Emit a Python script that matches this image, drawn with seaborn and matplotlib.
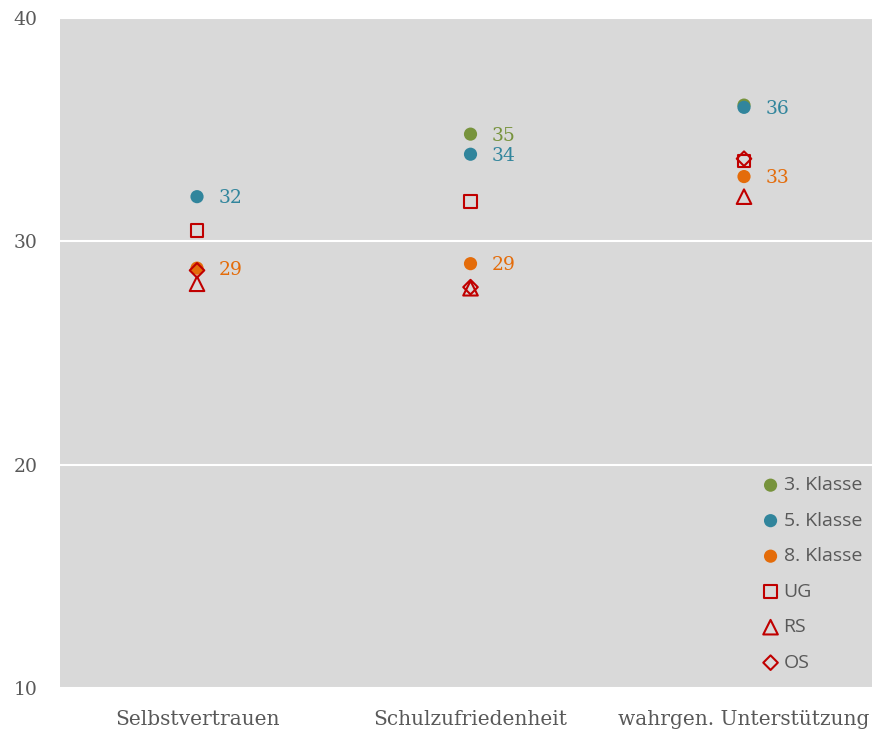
import numpy as np
import pandas as pd
import matplotlib
matplotlib.use("Agg")
import matplotlib.pyplot as plt
import seaborn as sns

categories = ["Selbstvertrauen", "Schulzufriedenheit", "wahrgen. Unterstützung"]

klasse3 = [np.nan, 34.8, 36.1]
klasse5 = [32.0, 33.9, 36.0]
klasse8 = [28.8, 29.0, 32.9]
ug = [30.5, 31.8, 33.6]
rs = [28.1, 27.9, 32.0]
os_ = [28.7, 27.95, 33.7]

series_names = ["3. Klasse", "5. Klasse", "8. Klasse", "UG", "RS", "OS"]
series_values = [klasse3, klasse5, klasse8, ug, rs, os_]

# value labels shown next to the grade points (None = label hidden)
label_k3 = [None, "35", None]
label_k5 = ["32", "34", "36"]
label_k8 = ["29", "29", "33"]

green = "#77933C"
blue = "#31859C"
orange = "#E46C0A"
red = "#C00000"

styles = {
    "3. Klasse": dict(marker="o", filled=True, color=green, s=90),
    "5. Klasse": dict(marker="o", filled=True, color=blue, s=90),
    "8. Klasse": dict(marker="o", filled=True, color=orange, s=90),
    "UG": dict(marker="s", filled=False, color=red, s=85),
    "RS": dict(marker="^", filled=False, color=red, s=110),
    "OS": dict(marker="D", filled=False, color=red, s=55),
}

sns.set_theme(style="white")
plt.rcParams["font.family"] = ["DejaVu Serif"]

fig = plt.figure(figsize=(8.72, 7.40), dpi=100)
ax = fig.add_axes([60 / 872, 52 / 740, 812 / 872, 670 / 740])
ax.set_facecolor("#D9D9D9")

xpos = np.arange(len(categories))
for name, vals in zip(series_names, series_values):
    st = styles[name]
    df = pd.DataFrame({"x": xpos, "y": vals}).dropna()
    if st["filled"]:
        sns.scatterplot(data=df, x="x", y="y", ax=ax, marker=st["marker"],
                        color=st["color"], s=st["s"], edgecolor="none",
                        linewidth=0, label=name, zorder=3)
    else:
        sns.scatterplot(data=df, x="x", y="y", ax=ax, marker=st["marker"],
                        facecolors="none", edgecolors=st["color"], s=st["s"],
                        linewidth=1.5, label=name, zorder=3)

for labels, vals, col in [(label_k3, klasse3, green), (label_k5, klasse5, blue),
                          (label_k8, klasse8, orange)]:
    for i, (lab, v) in enumerate(zip(labels, vals)):
        if lab is not None:
            ax.annotate(lab, (xpos[i], v), xytext=(15.5, -1), textcoords="offset points",
                        va="center", ha="left", fontsize=13.5, color=col)

ax.set_xlim(-0.501, 2.468)
ax.set_ylim(10, 40)
ax.set_yticks([10, 20, 30, 40])
ax.set_xticks(xpos)
ax.set_xticklabels(categories)
ax.set_xlabel("")
ax.set_ylabel("")
ax.grid(axis="y", color="white", linewidth=1.5)
ax.set_axisbelow(True)
for sp in ax.spines.values():
    sp.set_visible(False)
ax.tick_params(axis="both", length=0, colors="#595959")
ax.tick_params(axis="y", pad=16, labelsize=13.5)
ax.tick_params(axis="x", pad=16, labelsize=14.5)

leg = ax.legend(loc="upper left", bbox_to_anchor=(755 / 872, 1 - 468.5 / 740),
                bbox_transform=fig.transFigure, frameon=False,
                prop={"family": ["Open Sans", "DejaVu Sans"], "size": 14},
                handlelength=0.8, handletextpad=0.27, labelspacing=0.9,
                borderaxespad=0.0, borderpad=0.4)
for t in leg.get_texts():
    t.set_color("#595959")

fig.savefig("out.png", dpi=100)
